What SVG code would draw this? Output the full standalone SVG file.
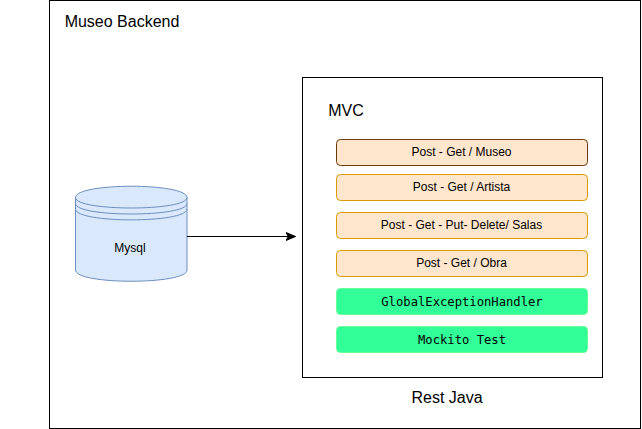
<svg xmlns="http://www.w3.org/2000/svg" width="642" height="429" viewBox="0 0 642 429">
<style>
text{font-family:"Liberation Sans",Arial,sans-serif;fill:#000;text-anchor:middle}
.t12{font-size:12px}
.t16{font-size:16px}
.mono{font-family:"DejaVu Sans Mono","Liberation Mono",monospace;font-size:12.2px}
.box{fill:#fff;stroke:#000;stroke-width:1}
.or{fill:#ffe6cc;stroke:#d79b00;stroke-width:1}
.br{fill:#ffe6cc;stroke:#6d3a0a;stroke-width:1}
.gr{fill:#33ff99;stroke:#66ff99;stroke-width:1}
.db{fill:#dae8fc;stroke:#6c8ebf;stroke-width:1}
.dbl{fill:none;stroke:#6c8ebf;stroke-width:1}
</style>
<defs>
<marker id="arr" viewBox="0 0 11 11" refX="10" refY="5.500" markerWidth="11" markerHeight="11" markerUnits="userSpaceOnUse" orient="auto">
<path d="M0.500 1.500L10 5.500L0.500 9.500L2.800 5.500Z" fill="#000" stroke="#000"/>
</marker>
</defs>
<g id="backend"><rect class="box" x="49.500" y="0.500" width="591" height="428"/><text class="t16" x="122" y="27">Museo Backend</text></g>
<g id="mvc"><rect class="box" x="302.500" y="77.500" width="300" height="300"/><text class="t16" x="346" y="116">MVC</text></g>
<g id="rest"><text class="t16" x="447" y="403">Rest Java</text></g>
<g id="museo"><rect class="br" x="336.500" y="139.500" width="251" height="26" rx="3.900"/><text class="t12" x="461.500" y="156">Post - Get / Museo</text></g>
<g id="artista"><rect class="or" x="336.500" y="174.500" width="251" height="26" rx="3.900"/><text class="t12" x="461.500" y="191">Post - Get / Artista</text></g>
<g id="salas"><rect class="or" x="336.500" y="212.500" width="251" height="26" rx="3.900"/><text class="t12" x="461.500" y="229">Post - Get - Put- Delete/ Salas</text></g>
<g id="obra"><rect class="or" x="336.500" y="250.500" width="251" height="26" rx="3.900"/><text class="t12" x="461.500" y="267">Post - Get / Obra</text></g>
<g id="handler"><rect class="gr" x="336.500" y="288.500" width="251" height="26" rx="3.900"/><text class="mono" x="462" y="306">GlobalExceptionHandler</text></g>
<g id="mockito"><rect class="gr" x="336.500" y="326.500" width="251" height="26" rx="3.900"/><text class="mono" x="462" y="344">Mockito Test</text></g>
<g id="mysql">
<path class="db" d="M75.500 197.500C75.500 182.500 187 182.500 187 197.500V270C187 285 75.500 285 75.500 270Z"/>
<path class="dbl" d="M75.500 197.500C75.500 211.500 187 211.500 187 197.500M75.500 203.500C75.500 217.500 187 217.500 187 203.500M75.500 209C75.500 223.500 187 223.500 187 209"/>
<text class="t12" x="130" y="252">Mysql</text>
</g>
<g id="connectors"><path d="M187 236.500H295.500" fill="none" stroke="#000" stroke-width="1" marker-end="url(#arr)"/></g>
</svg>
